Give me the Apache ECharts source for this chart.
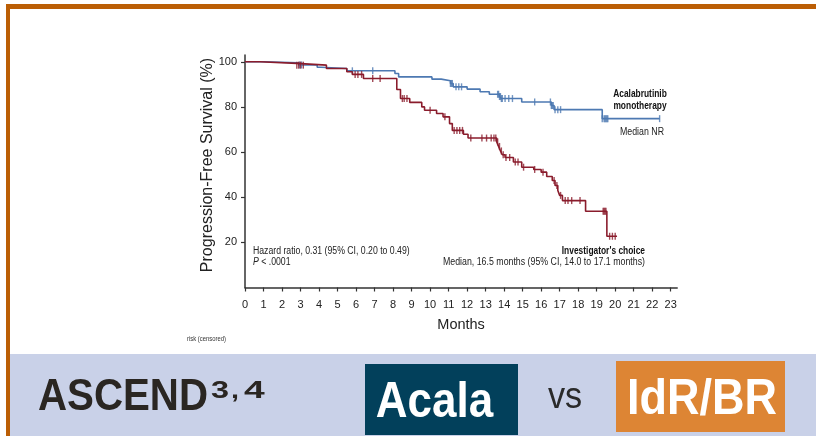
<!DOCTYPE html>
<html><head><meta charset="utf-8">
<script src="https://cdn.jsdelivr.net/npm/echarts@6/dist/echarts.min.js"></script>
<style>html,body{margin:0;padding:0;background:#fff}#c{width:816px;height:436px}</style>
</head><body><div id="c"></div>
<script>
// Kaplan-Meier step points [month, PFS %]
const acalaSteps = [[0,100],[1.0,99.6],[2.9,98.6],[3.9,97.6],[4.1,97.0],[5.5,96.0],[8.1,94.8],[8.3,93.3],[10.1,92.3],[10.6,91.6],[11.1,90.4],[11.25,88.9],[12.0,87.9],[12.7,86.7],[13.2,85.6],[13.75,84.6],[13.85,83.7],[14.95,82.2],[16.55,80.6],[16.7,78.8],[19.3,74.8],[22.4,74.8]];
const icSteps = [[0,100],[0.8,99.3],[2.8,98.5],[4.4,97.0],[5.5,95.6],[5.8,94.4],[6.4,92.6],[8.2,87.7],[8.4,83.7],[8.9,82.0],[9.55,80.0],[9.7,78.5],[10.35,77.1],[10.7,75.6],[11.05,72.6],[11.2,69.6],[11.8,67.9],[12.05,66.2],[13.6,64.5],[13.7,62.5],[13.8,60.5],[13.9,58.8],[14.05,57.6],[14.5,55.6],[14.95,53.3],[15.6,52.3],[16.0,51.1],[16.3,49.2],[16.6,47.4],[16.75,45.2],[16.9,43.0],[17.0,40.8],[17.15,38.5],[18.4,33.8],[19.55,22.7],[20.1,22.7]];
// censor times (months)
const acalaCensor = [2.95,3.05,5.8,6.9,11.1,11.15,11.2,11.4,11.55,11.7,13.65,13.7,13.75,13.8,13.85,13.9,14.05,14.25,14.45,15.65,16.5,16.55,16.6,16.65,16.75,16.9,17.05,19.3,19.4,19.45,19.5,19.55,19.6,22.4];
const icCensor = [2.8,2.9,3.0,3.15,5.95,6.1,6.3,6.9,7.3,8.5,8.6,8.75,10.0,10.8,11.3,11.45,11.6,11.75,12.2,12.8,13.05,13.3,13.45,13.55,13.65,13.75,13.85,13.95,14.1,14.3,14.6,14.75,15.05,15.65,16.1,16.7,16.85,17.05,17.3,17.45,17.65,18.1,19.35,19.4,19.45,19.5,19.7,19.85,20.0];
const yTicks = [20,40,60,80,100];

function survAt(steps, t){ let v = steps[0][1]; for (const s of steps){ if (s[0] <= t) v = s[1]; } return v; }
const acalaMarks = acalaCensor.map(t => [t, survAt(acalaSteps, t)]);
const icMarks = icCensor.map(t => [t, survAt(icSteps, t)]);

const BLUE = '#4d79b2', RED = '#8a1c2c', ORANGE = '#bb5e05';
const SANS = '"Liberation Sans",Arial,sans-serif';
const chart = echarts.init(document.getElementById('c'), null, {renderer:'canvas'});
function txt(x, y, s, size, opts){
  opts = opts || {};
  return {type:'text', x:x, y:y, scaleX: opts.sx || 0.84, rotation: opts.rot || 0, z: opts.z || 20,
    style:{text:s, fontFamily:SANS, fontWeight: opts.bold ? 'bold' : 'normal', fontSize:size,
      fill: opts.fill || '#222', align: opts.align || 'left', verticalAlign:'middle'}};
}
chart.setOption({
  animation:false,
  backgroundColor:'#fff',
  grid:{left:245, top:55, width:432.2, height:232.5},
  xAxis:{type:'value', min:0, max:23.35, interval:1,
    name:'Months', nameLocation:'middle', nameGap:30,
    nameTextStyle:{fontFamily:SANS, fontSize:14.5, color:'#222'},
    axisLine:{lineStyle:{color:'#333', width:1.5}},
    axisTick:{show:true, length:4, lineStyle:{color:'#333', width:1.2}},
    axisLabel:{fontFamily:SANS, fontSize:11, color:'#222', margin:12, showMaxLabel:false},
    splitLine:{show:false}},
  yAxis:{type:'value', min:0, max:103, interval:20,
    axisLine:{show:true, lineStyle:{color:'#333', width:1.5}},
    axisTick:{show:true, length:4, lineStyle:{color:'#333', width:1.2}, customValues: yTicks},
    axisLabel:{fontFamily:SANS, fontSize:11, color:'#222', margin:8, customValues: yTicks},
    splitLine:{show:false}},
  series:[
    {type:'line', step:'end', data:acalaSteps, symbol:'none', lineStyle:{color:BLUE, width:1.6}, z:3},
    {type:'line', step:'end', data:icSteps, symbol:'none', lineStyle:{color:RED, width:1.6}, z:4},
    {type:'scatter', data:acalaMarks, symbol:'rect', symbolSize:[1.4,7], itemStyle:{color:BLUE}, z:3},
    {type:'scatter', data:icMarks, symbol:'rect', symbolSize:[1.4,7], itemStyle:{color:RED}, z:4}
  ],
  graphic:[
    {type:'rect', shape:{x:6, y:4, width:810, height:5}, style:{fill:ORANGE}, z:10},
    {type:'rect', shape:{x:6, y:4, width:4, height:432}, style:{fill:ORANGE}, z:10},
    {type:'rect', shape:{x:10, y:354, width:806, height:82}, style:{fill:'#c9d1e8'}, z:5},
    txt(207.5, 165, 'Progression-Free Survival (%)', 16, {sx:1, align:'center', rot:Math.PI/2}),
    txt(38, 398, 'ASCEND', 44, {bold:true, fill:'#2a2622', sx:0.915}),
    txt(211, 391, '3', 24, {bold:true, fill:'#2a2622', sx:1.35}),
    txt(231, 391, ',', 24, {bold:true, fill:'#2a2622', sx:1.2}),
    txt(244, 391, '4', 24, {bold:true, fill:'#2a2622', sx:1.55}),
    {type:'rect', shape:{x:365, y:364, width:153, height:71}, style:{fill:'#02405b'}, z:6},
    txt(434.5, 403, 'Acala', 50, {bold:true, fill:'#fff', align:'center', sx:0.88}),
    txt(565, 398, 'vs', 36, {fill:'#2a2a2a', align:'center', sx:0.95}),
    {type:'rect', shape:{x:616, y:361, width:169, height:71}, style:{fill:'#dd8534'}, z:6},
    txt(702, 400, 'IdR/BR', 50, {bold:true, fill:'#fff', align:'center', sx:0.9}),
    txt(253, 251, 'Hazard ratio, 0.31 (95% CI, 0.20 to 0.49)', 10, {sx:0.87}),
    {type:'text', x:253, y:262, scaleX:0.87, z:20, style:{rich:{i:{fontStyle:'italic', fontFamily:SANS, fontSize:10, fill:'#222'}, n:{fontFamily:SANS, fontSize:10, fill:'#222'}}, text:'{i|P}{n| < .0001}', verticalAlign:'middle'}},
    txt(645, 251, "Investigator's choice", 10.5, {bold:true, fill:'#111', align:'right', sx:0.8}),
    txt(645, 262.5, 'Median, 16.5 months (95% CI, 14.0 to 17.1 months)', 10, {align:'right', sx:0.88}),
    txt(640, 94, 'Acalabrutinib', 10.5, {bold:true, fill:'#111', align:'center', sx:0.8}),
    txt(640, 106.5, 'monotherapy', 10.5, {bold:true, fill:'#111', align:'center', sx:0.8}),
    txt(664, 132, 'Median NR', 10, {align:'right', sx:0.88}),
    txt(187, 339, 'risk (censored)', 7, {fill:'#333'})
  ]
});
</script></body></html>
